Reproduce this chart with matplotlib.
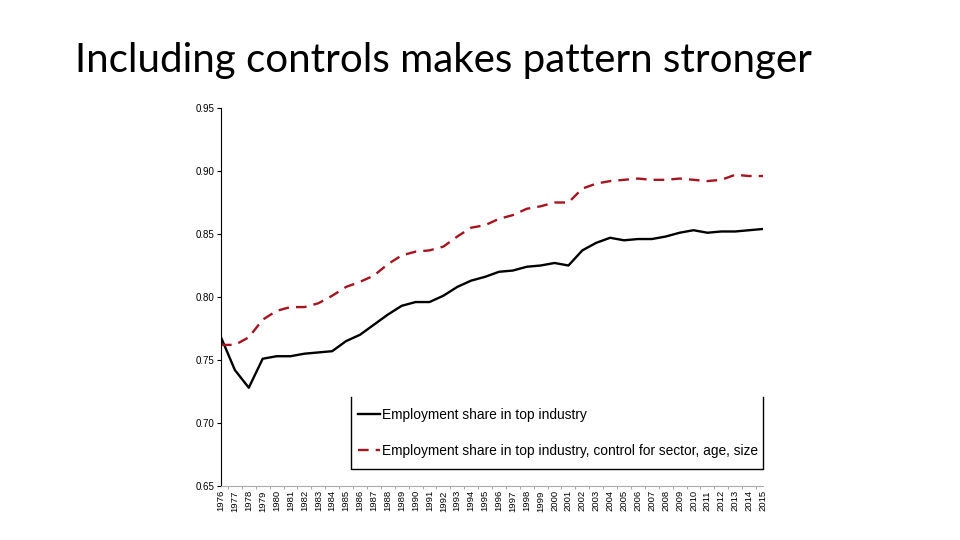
import matplotlib
matplotlib.use("Agg")
import matplotlib.pyplot as plt
import numpy as np

years = list(range(1976, 2016))
share_top = [0.768, 0.742, 0.728, 0.751, 0.753, 0.753, 0.755, 0.756, 0.757, 0.765,
             0.770, 0.778, 0.786, 0.793, 0.796, 0.796, 0.801, 0.808, 0.813, 0.816,
             0.820, 0.821, 0.824, 0.825, 0.827, 0.825, 0.837, 0.843, 0.847, 0.845,
             0.846, 0.846, 0.848, 0.851, 0.853, 0.851, 0.852, 0.852, 0.853, 0.854]
share_ctrl = [0.762, 0.762, 0.768, 0.782, 0.789, 0.792, 0.792, 0.795, 0.801, 0.808,
              0.812, 0.817, 0.826, 0.833, 0.836, 0.837, 0.840, 0.848, 0.855, 0.857,
              0.862, 0.865, 0.870, 0.872, 0.875, 0.875, 0.886, 0.890, 0.892, 0.893,
              0.894, 0.893, 0.893, 0.894, 0.893, 0.892, 0.893, 0.897, 0.896, 0.896]
yticks = [0.65, 0.70, 0.75, 0.80, 0.85, 0.90, 0.95]
label_top = "Employment share in top industry"
label_ctrl = "Employment share in top industry, control for sector, age, size"
title = "Including controls makes pattern stronger"

fig = plt.figure(figsize=(9.6, 5.4), dpi=100)
fig.text(75/960, 1-72/540, title, fontsize=29, family=["Lato", "DejaVu Sans"],
         ha="left", va="baseline", color="black")

ax = fig.add_axes([221/960, 1-486/540, (763-221)/960, (486-108)/540])
l1, = ax.plot(years, share_top, color="black", lw=1.7)
l2, = ax.plot(years, share_ctrl, color="#a5141f", lw=1.7, dashes=(4.5, 3))

ax.set_xlim(1976, 2015)
ax.set_ylim(0.65, 0.95)
ax.set_yticks(yticks)
ax.set_yticklabels([f"{v:.2f}" for v in yticks])
ax.set_xticks(years)
ax.set_xticklabels([str(y) for y in years], rotation=90)
ax.set_xticks(np.array(years[:-1]) + 0.5, minor=True)
ax.tick_params(axis="x", which="major", length=0, labelsize=6.8, pad=3)
ax.tick_params(axis="x", which="minor", length=2.5, color="#999999")
ax.tick_params(axis="y", length=3, labelsize=7, pad=2, color="black")
for lab in ax.get_xticklabels() + ax.get_yticklabels():
    lab.set_family(["Liberation Sans", "DejaVu Sans"])
for s in ["top", "right"]:
    ax.spines[s].set_visible(False)
ax.spines["left"].set_color("black")
ax.spines["bottom"].set_color("#aaaaaa")

leg = ax.legend([l1, l2], [label_top, label_ctrl], loc="center left",
                bbox_to_anchor=(0.253, 0.140),
                frameon=False, fontsize=9.9, handlelength=1.6, handletextpad=0.15,
                labelspacing=1.6, borderaxespad=0, borderpad=0)
for t in leg.get_texts():
    t.set_family(["Liberation Sans", "DejaVu Sans"])

bx0, bx1, by0, by1 = 0.24, 1.0, 0.045, 0.235
ax.plot([bx0, bx0, bx1, bx1], [by1, by0, by0, by1], color="black", lw=1,
        transform=ax.transAxes, clip_on=False)

fig.savefig("out.png", dpi=100, facecolor="white")
